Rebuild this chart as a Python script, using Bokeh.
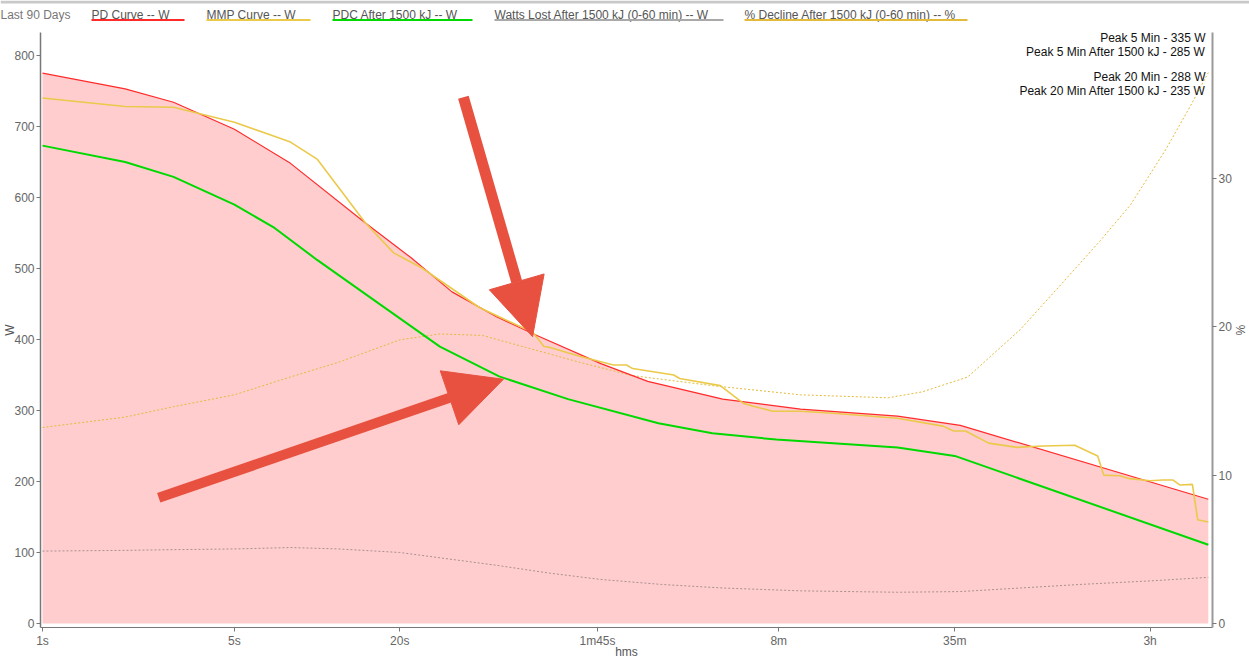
import math
from bokeh.plotting import figure
from bokeh.models import Range1d, LinearAxis, FixedTicker, Label, Arrow, NormalHead
from bokeh.layouts import column, row
from bokeh.embed import file_html
from bokeh.resources import INLINE
from bokeh.core.properties import value

FONT = "Liberation Sans"

# ---------------- data ----------------
pd_secs = [1, 2, 3, 5, 8, 15, 22, 31, 45, 62, 108, 160, 300, 576, 1300, 2200, 17600]
pd_watts = [775, 753, 734, 696, 648, 564, 515, 467, 432, 407, 366, 341, 316, 302, 292, 279, 175]

mmp_secs = [1, 2, 3, 5, 8, 10, 15, 19, 24, 39, 61, 67, 70, 91, 120, 134, 141, 199, 209,
            294, 357, 388, 456, 576, 757, 1300, 1900, 2080, 2300, 2790, 3540, 4390, 5740,
            6960, 7320, 8370, 9100, 10800, 12000, 13100, 13900, 15400, 16100, 17600]
mmp_watts = [740, 728, 727, 706, 678, 654, 564, 522, 501, 445, 410, 390, 389, 376, 364, 364, 359, 350, 345,
             335, 310, 306, 299, 299, 296, 289, 278, 271, 271, 254, 248, 250, 251,
             236, 209, 208, 204, 201, 202, 202, 195, 196, 146, 143]

pdc_secs = [1, 2, 3, 5, 7, 10, 17, 28, 46, 82, 175, 275, 470, 1300, 2100, 17600]
pdc_watts = [673, 650, 629, 590, 557, 512, 449, 390, 348, 316, 282, 268, 259, 248, 236, 111]

lost_secs = [1, 2, 3, 5, 8, 12, 20, 30, 45, 70, 108, 180, 300, 576, 1300, 2200, 3640, 6000, 10800, 17600]
lost_watts = [102, 103, 104, 105, 107, 105, 100, 91, 82, 71, 62, 55, 50, 46, 44, 45, 50, 55, 60, 65]

decl_secs = [1, 2, 3, 5, 8, 12, 20, 28, 40, 60, 90, 140, 280, 576, 1200, 1600, 2340, 3640,
             5100, 7130, 9170, 12300, 15200, 17600]
decl_pct = [13.2, 13.9, 14.6, 15.4, 16.6, 17.6, 19.1, 19.5, 19.4, 18.5, 17.6, 16.7, 16.0, 15.4, 15.2, 15.6,
            16.6, 19.8, 22.8, 25.8, 28.2, 31.9, 34.9, 37.1]

tick_secs = [1, 5, 20, 105, 480, 2100, 10800]
tick_labels = ["1s", "5s", "20s", "1m45s", "8m", "35m", "3h"]
watt_ticks = [0, 100, 200, 300, 400, 500, 600, 700, 800]
pct_ticks = [0, 10, 20, 30]

legend_labels = ["PD Curve  -- W", "MMP Curve  -- W", "PDC After 1500 kJ  -- W",
                 "Watts Lost After 1500 kJ (0-60 min)  -- W",
                 "% Decline After 1500 kJ (0-60 min)  -- %"]
period_label = "Last 90 Days"

peak_texts = ["Peak 5 Min - 335 W", "Peak 5 Min After 1500 kJ - 285 W",
              "Peak 20 Min - 288 W", "Peak 20 Min After 1500 kJ - 235 W"]

# callout arrows (start -> tip) in data space
arrow_secs0 = [34.1, 2.65]
arrow_watts0 = [741, 177]
arrow_secs1 = [60.9, 47.7]
arrow_watts1 = [404, 344]

# ---------------- styles / layout ----------------
RED = "#ff2b2b"
YEL = "#ebc94a"
GRN = "#00d900"
GRY = "#a9a9a9"
YEL2 = "#e3bb3c"
ARROW = "#e8513f"
legend_colors = [RED, YEL, GRN, GRY, YEL2]
legend_x0 = [91, 206, 332, 494, 744]
legend_x1 = [184, 310, 472, 723, 967]

FRAME_L, FRAME_R = 40, 1212
W_TOTAL = 1249

# ---------------- legend strip (page-pixel data space) ----------------
lg = figure(width=W_TOTAL, height=30, x_range=Range1d(0, W_TOTAL), y_range=Range1d(30, 0),
            output_backend="svg", toolbar_location=None, min_border=0,
            x_axis_location=None, y_axis_location=None, outline_line_color=None)
for g in lg.grid:
    g.visible = False
lg.quad(left=[0], right=[W_TOTAL], top=[0], bottom=[3], fill_color="#c9c9c9", line_color=None)
lg.text(x=[0], y=[14], text=[period_label], text_color="#777777",
        text_font=value(FONT), text_font_size="12px", text_baseline="middle")
lg.text(x=legend_x0, y=[14] * len(legend_labels), text=legend_labels, text_color="#555555",
        text_font=value(FONT), text_font_size="12px", text_baseline="middle")
lg.segment(x0=legend_x0, y0=[19.5] * 5, x1=legend_x1, y1=[19.5] * 5,
           line_color=legend_colors, line_width=2)

# ---------------- main chart ----------------
PX0 = 42.0       # page pixel of 1 s
PXDEC = 274.6    # pixels per decade


def sec_at(px):
    return 10 ** ((px - PX0) / PXDEC)


def watt_at(py):
    return (625 - py) / 0.7125


p = figure(width=W_TOTAL, height=631, x_axis_type="log",
           x_range=Range1d(sec_at(FRAME_L), sec_at(FRAME_R)),
           y_range=Range1d(watt_at(629), watt_at(32)),
           output_backend="svg", toolbar_location=None,
           min_border_left=FRAME_L, min_border_right=W_TOTAL - FRAME_R,
           min_border_top=2, min_border_bottom=32,
           outline_line_color=None)
p.extra_y_ranges = {"pct": Range1d(-4 / 14.9, 593 / 14.9)}
for g in p.grid:
    g.visible = False

p.varea(x=pd_secs, y1=0, y2=pd_watts, fill_color="#ffcdcd")
p.line(lost_secs, lost_watts, line_color="#a89090", line_width=1, line_dash="2 2")
p.line(decl_secs, decl_pct, y_range_name="pct", line_color=YEL2, line_width=1, line_dash="2 2")
p.line(pd_secs, pd_watts, line_color=RED, line_width=1.2)
p.line(mmp_secs, mmp_watts, line_color=YEL, line_width=1.6)
p.line(pdc_secs, pdc_watts, line_color=GRN, line_width=2)

p.xaxis.ticker = FixedTicker(ticks=tick_secs)
p.xaxis.major_label_overrides = dict(zip(tick_secs, tick_labels))
p.xaxis.axis_label = "hms"
p.yaxis.ticker = FixedTicker(ticks=watt_ticks)
p.yaxis.axis_label = "W"

right = LinearAxis(y_range_name="pct", ticker=FixedTicker(ticks=pct_ticks), axis_label="%")
p.add_layout(right, "right")

for ax in [p.xaxis[0], p.yaxis[0], right]:
    ax.axis_line_color = "#777777"
    ax.major_tick_line_color = "#777777"
    ax.minor_tick_line_color = None
    ax.major_tick_in = 0
    ax.major_tick_out = 4
    ax.major_label_text_color = "#666666"
    ax.major_label_text_font = FONT
    ax.major_label_text_font_size = "12px"
    ax.major_label_text_line_height = 1.0
    ax.major_label_standoff = 2
    ax.axis_label_text_color = "#555555"
    ax.axis_label_text_font = FONT
    ax.axis_label_text_font_size = "12px"
    ax.axis_label_text_font_style = "normal"
    ax.axis_label_text_line_height = 1.0
# pull the axis titles in so the frame lands where the reference has it
p.yaxis[0].axis_label_standoff = -6
p.xaxis[0].axis_label_standoff = -6
right.axis_label_standoff = -2
p.yaxis[0].axis_line_width = 1.5
right.axis_line_color = "#9a9a9a"
right.axis_line_width = 2

# peak annotations (top-right)
peak_py = [38, 52, 77, 91]
for txt, py in zip(peak_texts, peak_py):
    p.add_layout(Label(x=sec_at(1205), y=watt_at(py), text=txt, text_align="right",
                       text_baseline="middle", text_font=FONT, text_font_size="12px",
                       text_color="#111111"))

# callout arrows
for xs, ys, xe, ye, lw in zip(arrow_secs0, arrow_watts0, arrow_secs1, arrow_watts1, [11, 10]):
    p.add_layout(Arrow(end=NormalHead(size=57, fill_color=ARROW, line_color=ARROW, line_width=1),
                       x_start=xs, y_start=ys, x_end=xe, y_end=ye,
                       line_color=ARROW, line_width=lw))

layout = column(row(lg), p, spacing=0)
open("out.html", "w").write(file_html(layout, INLINE))
